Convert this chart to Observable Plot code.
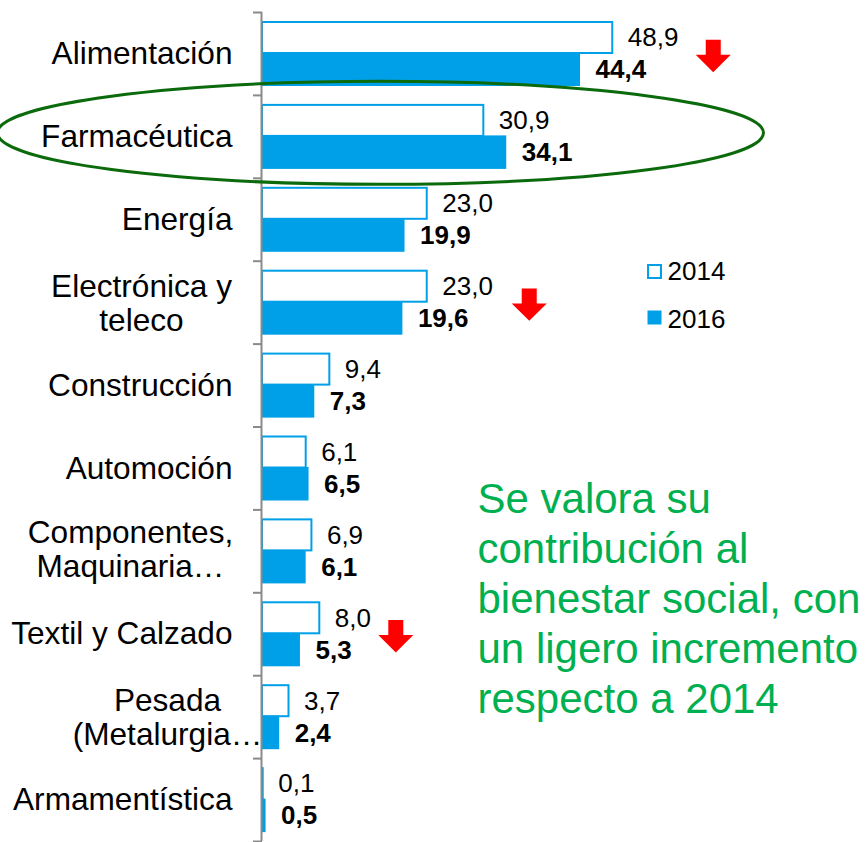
<!DOCTYPE html>
<html>
<head>
<meta charset="utf-8">
<script src="https://cdn.jsdelivr.net/npm/d3@7"></script>
<script src="https://cdn.jsdelivr.net/npm/@observablehq/plot@0.6"></script>
<style>
  html, body { margin: 0; padding: 0; background: #fff; overflow: hidden; }
  #chart { width: 867px; height: 842px; overflow: hidden; }
</style>
</head>
<body>
<div id="chart"></div>
<script>
// ---- data ----
const categories = ["Alimentación", "Farmacéutica", "Energía", "Electrónica y teleco", "Construcción",
  "Automoción", "Componentes, Maquinaria…", "Textil y Calzado", "Pesada (Metalurgia…", "Armamentística"];
const categoryLabels = ["Alimentación", "Farmacéutica", "Energía", "Electrónica y\nteleco", "Construcción",
  "Automoción", "Componentes,\nMaquinaria…", "Textil y Calzado", "Pesada\n(Metalurgia…", "Armamentística"];
const years = ["2014", "2016"];
const values2014 = [48.9, 30.9, 23.0, 23.0, 9.4, 6.1, 6.9, 8.0, 3.7, 0.1];
const values2016 = [44.4, 34.1, 19.9, 19.6, 7.3, 6.5, 6.1, 5.3, 2.4, 0.5];
const markedDecreases = ["Alimentación", "Electrónica y teleco", "Textil y Calzado"];
const highlighted = "Farmacéutica";
const noteText = "Se valora su\ncontribución al\nbienestar social, con\nun ligero incremento\nrespecto a 2014";

// ---- styles / layout ----
const BLUE = "#00A0E9", GRAY = "#8A8A8A", RED = "#FF0000", GREEN = "#00B050", DARKGREEN = "#0B6A0B";
const FONT = "'Liberation Sans', Arial, Helvetica, sans-serif";
const W = 867, H = 842, mL = 262, mR = 32, mT = 12, mB = 1;
const step = (H - mT - mB) / categories.length;
const LABEL_SIZE = 31.6, VALUE_SIZE = 26;

const rows = categories.map((c, i) => ({category: c, label: categoryLabels[i], v2014: values2014[i], v2016: values2016[i]}));
const fmt = v => v.toFixed(1).replace(".", ",");

const arrowSymbol = {draw(ctx) {
  ctx.moveTo(-7.5, -16.2); ctx.lineTo(7.5, -16.2); ctx.lineTo(7.5, -1.2); ctx.lineTo(17.5, -1.2);
  ctx.lineTo(0, 16.2); ctx.lineTo(-17.5, -1.2); ctx.lineTo(-7.5, -1.2); ctx.closePath();
}};
const ellipseSymbol = {draw(ctx) {
  const a = 383, b = 51.5, k = 0.5523;
  ctx.moveTo(a, 0);
  ctx.bezierCurveTo(a, b * k, a * k, b, 0, b);
  ctx.bezierCurveTo(-a * k, b, -a, b * k, -a, 0);
  ctx.bezierCurveTo(-a, -b * k, -a * k, -b, 0, -b);
  ctx.bezierCurveTo(a * k, -b, a, -b * k, a, 0);
  ctx.closePath();
}};

// per-label centre offsets for the two-line labels (layout)
const twoLineOffsets = {"Electrónica y teleco": -121, "Componentes, Maquinaria…": -132, "Pesada (Metalurgia…": -95};
// per-arrow horizontal offsets from the 2014 bar end (layout)
const arrowOffsets = {"Alimentación": 100.5, "Electrónica y teleco": 102, "Textil y Calzado": 76};

const marks = [
  Plot.barX(rows, {y: "category", x: "v2014", fill: "white", stroke: BLUE, strokeWidth: 2,
    insetTop: 10, insetBottom: step - 41}),
  Plot.barX(rows, {y: "category", x: "v2016", fill: BLUE, insetTop: 40.5, insetBottom: step - 74}),
  Plot.text(rows, {y: "category", x: "v2014", text: d => fmt(d.v2014), dx: 15, dy: 25.5 - step / 2,
    textAnchor: "start", fontSize: VALUE_SIZE, fill: "#000"}),
  Plot.text(rows, {y: "category", x: "v2016", text: d => fmt(d.v2016), dx: 15, dy: 57.5 - step / 2,
    textAnchor: "start", fontSize: VALUE_SIZE, fontWeight: "bold", fill: "#000"}),
  Plot.ruleX([0], {stroke: GRAY, strokeWidth: 2, dx: -1}),
  Plot.axisY({tickSize: 9, tickFormat: () => "", label: null, stroke: GRAY, strokeWidth: 2, dy: -step / 2}),
  Plot.axisY([categories[categories.length - 1]], {tickSize: 9, tickFormat: () => "", label: null,
    stroke: GRAY, strokeWidth: 2, dy: step / 2}),
  Plot.text(rows.filter(d => !(d.category in twoLineOffsets)), {y: "category", text: "label", frameAnchor: "left",
    dx: -30, textAnchor: "end", lineAnchor: "middle", fontSize: LABEL_SIZE, fill: "#000"}),
  ...Object.entries(twoLineOffsets).map(([c, off]) =>
    Plot.text(rows.filter(d => d.category === c), {y: "category", text: "label", frameAnchor: "left",
      dx: off, dy: c.startsWith("Componentes") ? -2 : 0, textAnchor: "middle", lineAnchor: "middle",
      fontSize: LABEL_SIZE, lineHeight: 1.08, fill: "#000"})),
  ...markedDecreases.map(c =>
    Plot.dot(rows.filter(d => d.category === c), {y: "category", x: "v2014", dx: arrowOffsets[c], dy: 2,
      symbol: arrowSymbol, fill: RED, stroke: "none"})),
  Plot.dot([highlighted], {y: d => d, frameAnchor: "left", dx: 118, dy: -4, symbol: ellipseSymbol,
    fill: "none", stroke: DARKGREEN, strokeWidth: 3}),
  // legend
  Plot.dot([years[0]], {frameAnchor: "top-left", dx: 392, dy: 259, symbol: "square", r: 7.3,
    fill: "white", stroke: BLUE, strokeWidth: 2}),
  Plot.dot([years[1]], {frameAnchor: "top-left", dx: 392, dy: 305, symbol: "square", r: 7.9,
    fill: BLUE, stroke: "none"}),
  Plot.text([years[0]], {text: d => d, frameAnchor: "top-left", dx: 405, dy: 259, textAnchor: "start",
    lineAnchor: "middle", fontSize: VALUE_SIZE, fill: "#000"}),
  Plot.text([years[1]], {text: d => d, frameAnchor: "top-left", dx: 405, dy: 307, textAnchor: "start",
    lineAnchor: "middle", fontSize: VALUE_SIZE, fill: "#000"}),
  // annotation
  Plot.text([noteText], {text: d => d, frameAnchor: "top-left", dx: 215, dy: 465, lineAnchor: "top",
    textAnchor: "start", fontSize: 42, lineHeight: 50 / 42, fill: GREEN})
];

const chart = Plot.plot({
  width: W, height: H,
  marginLeft: mL, marginRight: mR, marginTop: mT, marginBottom: mB,
  style: {fontFamily: FONT, background: "white", overflow: "hidden"},
  x: {domain: [0, 80], axis: null},
  y: {domain: categories, padding: 0, round: false, axis: null},
  marks
});
document.getElementById("chart").append(chart);
</script>
</body>
</html>
